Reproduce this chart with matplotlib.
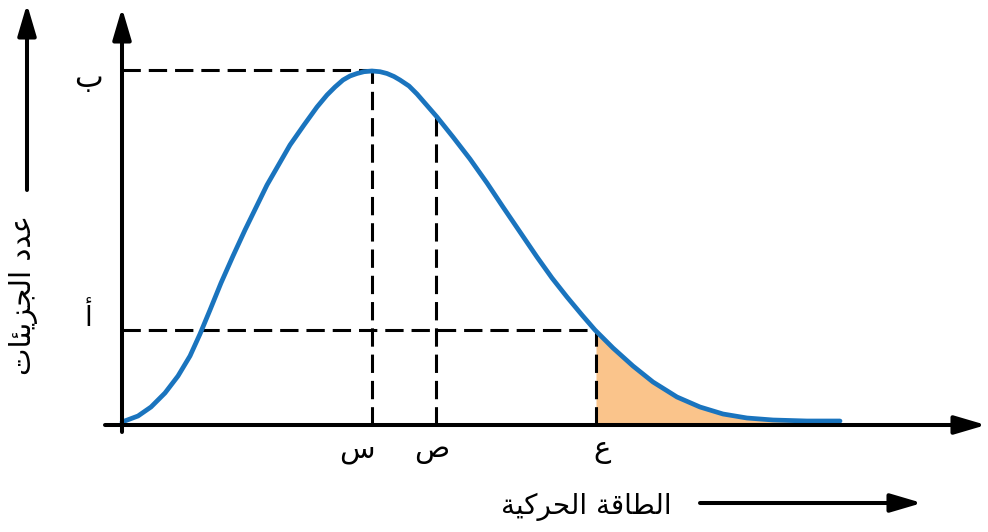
import numpy as np
import matplotlib
matplotlib.use("Agg")
import matplotlib.pyplot as plt

# ---------------- data ----------------
curve_x = [0.00, 0.16, 0.29, 0.43, 0.56, 0.68, 0.78, 0.88, 0.99, 1.11, 1.23, 1.45,
           1.68, 1.82, 1.95, 2.05, 2.13, 2.21, 2.28, 2.35, 2.42, 2.50, 2.58, 2.65,
           2.72, 2.78, 2.87, 2.95, 3.15, 3.31, 3.48,
           3.65, 3.81, 3.98, 4.15, 4.30, 4.45, 4.60, 4.73, 4.91, 5.11, 5.31, 5.55,
           5.78, 6.01, 6.25, 6.51, 6.85, 7.18]
curve_y = [0.03, 0.09, 0.18, 0.32, 0.49, 0.69, 0.91, 1.15, 1.42, 1.69, 1.95, 2.40,
           2.80, 3.00, 3.18, 3.30, 3.38, 3.45, 3.49, 3.515, 3.533, 3.54, 3.533, 3.515,
           3.485, 3.45, 3.39, 3.31, 3.08, 2.88, 2.66,
           2.42, 2.18, 1.93, 1.68, 1.47, 1.28, 1.10, 0.95, 0.77, 0.59, 0.43, 0.28,
           0.18, 0.11, 0.07, 0.05, 0.04, 0.04]

x_marks = [2.50, 3.14, 4.74]          # س ، ص ، ع
x_mark_labels = ["س", "ص", "ع"]
y_marks = [3.55, 0.95]                # ب ، أ
y_mark_labels = ["ب", "أ"]
x_title = "الطاقة الحركية"
y_title = "عدد الجزيئات"

# ---------------- minimal Arabic shaping for DejaVu Sans ----------------
FORMS = {  # isolated, final, initial, medial
    "ا": (0xFE8D, 0xFE8E, None, None),
    "أ": (0xFE83, 0xFE84, None, None),
    "ب": (0xFE8F, 0xFE90, 0xFE91, 0xFE92),
    "ة": (0xFE93, 0xFE94, None, None),
    "ت": (0xFE95, 0xFE96, 0xFE97, 0xFE98),
    "ج": (0xFE9D, 0xFE9E, 0xFE9F, 0xFEA0),
    "ح": (0xFEA1, 0xFEA2, 0xFEA3, 0xFEA4),
    "د": (0xFEA9, 0xFEAA, None, None),
    "ر": (0xFEAD, 0xFEAE, None, None),
    "ز": (0xFEAF, 0xFEB0, None, None),
    "س": (0xFEB1, 0xFEB2, 0xFEB3, 0xFEB4),
    "ص": (0xFEB9, 0xFEBA, 0xFEBB, 0xFEBC),
    "ط": (0xFEC1, 0xFEC2, 0xFEC3, 0xFEC4),
    "ع": (0xFEC9, 0xFECA, 0xFECB, 0xFECC),
    "ق": (0xFED5, 0xFED6, 0xFED7, 0xFED8),
    "ك": (0xFED9, 0xFEDA, 0xFEDB, 0xFEDC),
    "ل": (0xFEDD, 0xFEDE, 0xFEDF, 0xFEE0),
    "ي": (0xFEF1, 0xFEF2, 0xFEF3, 0xFEF4),
    "ئ": (0xFE89, 0xFE8A, 0xFE8B, 0xFE8C),
}


def shape(text):
    out = []
    n = len(text)
    for i, ch in enumerate(text):
        if ch not in FORMS:
            out.append(ch)
            continue
        prev = text[i - 1] if i > 0 else None
        nxt = text[i + 1] if i < n - 1 else None
        join_prev = prev in FORMS and FORMS[prev][2] is not None
        join_next = nxt in FORMS and FORMS[ch][2] is not None
        iso, fin, ini, med = FORMS[ch]
        if join_prev and join_next:
            code = med
        elif join_prev:
            code = fin
        elif join_next:
            code = ini
        else:
            code = iso
        out.append(chr(code))
    return "".join(out)[::-1]


# ---------------- figure ----------------
plt.rcParams["font.family"] = ["DejaVu Sans"]
fig = plt.figure(figsize=(9.88, 5.32), dpi=100)
ax = fig.add_axes([0, 0, 1, 1])
ax.set_xlim(-1.22, 8.66)
ax.set_ylim(-1.07, 4.25)
ax.axis("off")

cx = np.array(curve_x)
cy = np.array(curve_y)

# shaded tail beyond ع
x_e = x_marks[2]
mask = cx >= x_e
fx = np.concatenate([[x_e], cx[mask]])
fy = np.concatenate([[np.interp(x_e, cx, cy)], cy[mask]])
ax.fill_between(fx, 0, fy, color="#FAC48B", lw=0, zorder=1)

# dashed guide lines
dash = dict(color="black", lw=2.2, dashes=(6, 2.6), zorder=2)
ax.plot([0, x_marks[0]], [y_marks[0], y_marks[0]], **dash)
ax.plot([x_marks[0], x_marks[0]], [0, y_marks[0]], **dash)
ax.plot([x_marks[1], x_marks[1]], [0, np.interp(x_marks[1], cx, cy)], **dash)
ax.plot([0, x_marks[2]], [y_marks[1], y_marks[1]], **dash)
ax.plot([x_marks[2], x_marks[2]], [0, y_marks[1]], **dash)

# curve
ax.plot(cx, cy, color="#1A74BE", lw=3.4, solid_capstyle="round",
        solid_joinstyle="round", zorder=3)

# axes with arrows
arrow = dict(arrowstyle="-|>,head_length=0.95,head_width=0.28", lw=2.9,
             color="black", mutation_scale=20, shrinkA=0, shrinkB=0)
ax.annotate("", xy=(8.64, 0), xytext=(-0.17, 0), arrowprops=arrow, zorder=4)
ax.annotate("", xy=(0, 4.17), xytext=(0, -0.07), arrowprops=arrow, zorder=4)
# title arrows
ax.annotate("", xy=(-0.95, 4.21), xytext=(-0.95, 2.35), arrowprops=arrow)
ax.annotate("", xy=(8.00, -0.78), xytext=(5.78, -0.78), arrowprops=arrow)

# tick labels
offsets = [-0.15, -0.04, 0.06]
for xm, lab, off in zip(x_marks, x_mark_labels, offsets):
    ax.text(xm + off, -0.25, shape(lab), fontsize=21, ha="center", va="center")
ax.text(-0.34, y_marks[0] - 0.08, shape(y_mark_labels[0]), fontsize=22,
        ha="center", va="center")
ax.text(-0.34, y_marks[1] + 0.12, shape(y_mark_labels[1]), fontsize=20,
        ha="center", va="center")

# axis titles
ax.text(4.64, -0.82, shape(x_title), fontsize=20, ha="center", va="center")
ax.text(-0.98, 1.30, shape(y_title), fontsize=21, ha="center", va="center",
        rotation=90)

fig.savefig("out.png", dpi=100)
